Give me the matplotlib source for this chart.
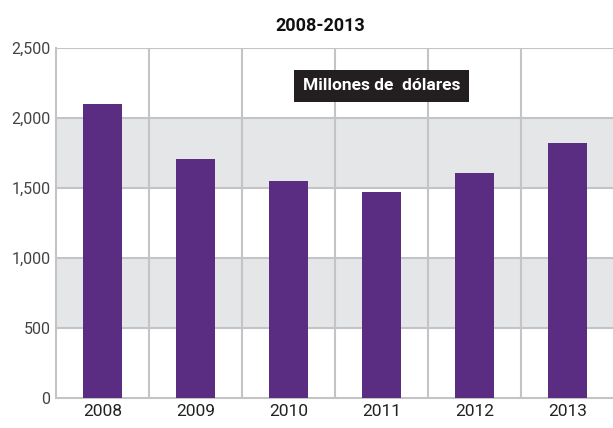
import matplotlib
matplotlib.use("Agg")
import matplotlib.pyplot as plt

years = ["2008", "2009", "2010", "2011", "2012", "2013"]
values = [2100, 1710, 1550, 1470, 1610, 1820]
yticks = [0, 500, 1000, 1500, 2000, 2500]
ytick_labels = ["0", "500", "1,000", "1,500", "2,000", "2,500"]

plt.rcParams['font.family'] = ['Roboto', 'DejaVu Sans']

fig = plt.figure(figsize=(6.13, 4.28), dpi=100)
ax = fig.add_axes([56/613, 30/428, 558/613, 350/428])

grid_c = "#c4c4c6"
for lo, hi in [(500, 1000), (1500, 2000)]:
    ax.axhspan(lo, hi, color="#e5e6e8", zorder=0, lw=0)
for y in yticks[1:]:
    ax.axhline(y, color=grid_c, lw=1.5, zorder=1)
for i in range(len(years)):
    ax.axvline(i + 0.5, color=grid_c, lw=1.5, zorder=1)

x = list(range(len(years)))
ax.bar(x, values, width=0.42, color="#5b2d82", zorder=3)

ax.set_xlim(-0.5, len(years) - 0.5)
ax.set_ylim(0, 2500)
ax.set_xticks(x)
ax.set_xticklabels(years, fontsize=12.5, color="#222222")
ax.set_yticks(yticks)
ax.set_yticklabels(ytick_labels, fontsize=11.5, color="#444444")
ax.tick_params(length=0, pad=4)
for s in ["top", "right"]:
    ax.spines[s].set_visible(False)
for s in ["left", "bottom"]:
    ax.spines[s].set_color(grid_c)
    ax.spines[s].set_linewidth(1.5)

ax.text(3.0, 2230, "Millones de  dólares", ha="center", va="center",
        fontsize=12.5, fontweight="bold", color="white", zorder=5,
        bbox=dict(boxstyle="square,pad=0.5", fc="#231f20", ec="none"))

fig.text(0.523, 0.94, "2008-2013", ha="center", va="center",
         fontsize=13, fontweight="bold", color="#111111")

fig.savefig("out.png", dpi=100)
